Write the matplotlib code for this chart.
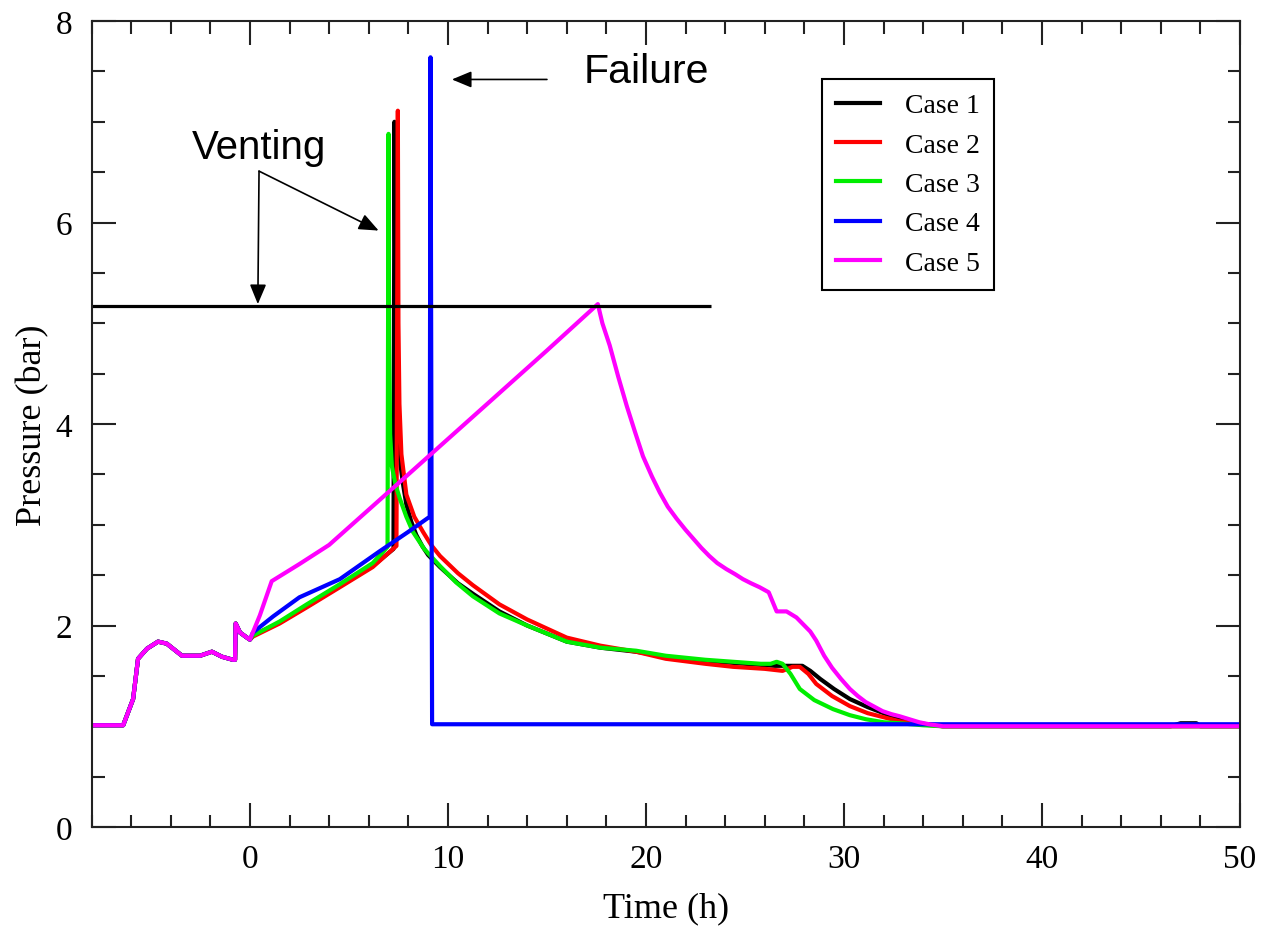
import matplotlib
matplotlib.use("Agg")
import matplotlib.pyplot as plt
from matplotlib.ticker import MultipleLocator

# shared history before t = 0 (all cases identical)
pre_t = [-8.0, -6.4, -5.9, -5.65, -5.2, -4.64, -4.2, -3.43, -2.52, -1.92, -1.41, -0.86, -0.75, -0.72, -0.5, -0.15, 0.0]
pre_p = [1.01, 1.01, 1.27, 1.67, 1.77, 1.84, 1.82, 1.70, 1.70, 1.74, 1.69, 1.66, 1.66, 2.02, 1.93, 1.88, 1.86]

# Case 1
t1 = [0.15, 1.5, 2.87, 4.54, 6.2, 7.25, 7.3, 7.35, 7.42, 7.5, 7.6, 7.75, 7.9, 8.15, 8.4, 8.7, 9.0, 9.6,
      10.5, 11.3, 12.6, 14.0, 16.0, 17.7, 19.5, 21.0, 23.0, 25.0, 26.5, 27.2, 27.9, 28.3, 28.8, 29.5, 30.3,
      31.2, 32.0, 32.8, 33.8, 35.0, 46.5, 47.0, 47.8, 48.0, 50.0]
p1 = [1.90, 2.03, 2.19, 2.39, 2.59, 2.76, 7.0, 5.0, 4.3, 3.9, 3.6, 3.38, 3.2, 3.03, 2.9, 2.79, 2.7, 2.58,
      2.42, 2.31, 2.14, 2.0, 1.84, 1.78, 1.74, 1.69, 1.65, 1.62, 1.60, 1.60, 1.60, 1.55, 1.47, 1.37, 1.27,
      1.19, 1.13, 1.07, 1.03, 1.0, 1.0, 1.03, 1.03, 1.0, 1.0]

# Case 2
t2 = [0.15, 1.5, 2.87, 4.54, 6.2, 7.4, 7.47, 7.5, 7.55, 7.65, 7.9, 8.3, 8.74, 9.15, 9.6, 10.5, 11.26, 12.6,
      14.0, 16.0, 17.7, 19.5, 21.0, 23.0, 24.4, 26.0, 26.9, 27.4, 27.77, 28.2, 28.6, 29.4, 30.3, 31.2, 32.0,
      32.8, 33.8, 35.0, 50.0]
p2 = [1.89, 2.02, 2.18, 2.38, 2.58, 2.79, 7.11, 5.0, 4.2, 3.7, 3.3, 3.08, 2.93, 2.8, 2.69, 2.52, 2.40, 2.21,
      2.06, 1.88, 1.80, 1.74, 1.67, 1.62, 1.59, 1.57, 1.55, 1.59, 1.59, 1.52, 1.42, 1.30, 1.20, 1.13, 1.09,
      1.05, 1.02, 1.0, 1.0]

# Case 3
t3 = [0.15, 1.5, 2.87, 4.54, 6.2, 6.95, 7.0, 7.03, 7.08, 7.17, 7.35, 7.57, 7.9, 8.23, 8.8, 9.6, 10.4, 11.26,
      12.6, 14.0, 16.0, 17.7, 19.5, 21.0, 23.0, 24.4, 25.8, 26.3, 26.6, 26.9, 27.3, 27.77, 28.5, 29.45, 30.3,
      31.1, 32.0, 32.8, 34.0, 35.0, 50.0]
p3 = [1.90, 2.04, 2.21, 2.41, 2.62, 2.78, 6.88, 4.8, 3.9, 3.58, 3.4, 3.26, 3.08, 2.93, 2.76, 2.59, 2.43, 2.29,
      2.12, 2.0, 1.84, 1.78, 1.75, 1.70, 1.66, 1.64, 1.62, 1.62, 1.64, 1.62, 1.52, 1.37, 1.26, 1.17, 1.11,
      1.07, 1.04, 1.03, 1.01, 1.0, 1.0]

# Case 4 (failure)
t4 = [0.15, 1.17, 2.5, 4.54, 6.5, 8.0, 9.08, 9.12, 9.2, 50.0]
p4 = [1.93, 2.09, 2.28, 2.46, 2.73, 2.93, 3.08, 7.64, 1.02, 1.02]

# Case 5
t5 = [0.5, 1.1, 2.5, 4.0, 8.0, 12.1, 15.0, 17.57, 17.8, 18.17, 18.6, 19.03, 19.45, 19.85, 20.3, 20.7, 21.1,
      21.55, 22.0, 22.4, 22.8, 23.2, 23.6, 24.06, 24.5, 24.9, 25.3, 25.74, 26.2, 26.6, 27.1, 27.6, 28.0,
      28.3, 28.6, 29.0, 29.4, 29.85, 30.3, 30.7, 31.1, 31.95, 32.4, 32.8, 33.3, 33.8, 34.3, 35.0, 50.0]
p5 = [2.1, 2.44, 2.61, 2.8, 3.5, 4.22, 4.73, 5.19, 5.0, 4.78, 4.47, 4.18, 3.92, 3.68, 3.48, 3.32, 3.18,
      3.06, 2.95, 2.86, 2.77, 2.69, 2.62, 2.56, 2.51, 2.46, 2.42, 2.38, 2.33, 2.14, 2.14, 2.08, 2.0,
      1.94, 1.85, 1.70, 1.58, 1.47, 1.37, 1.30, 1.24, 1.15, 1.12, 1.10, 1.07, 1.04, 1.02, 1.0, 1.0]

cases = ["Case 1", "Case 2", "Case 3", "Case 4", "Case 5"]
colors = ["black", "#ff0000", "#00ee00", "#0000ff", "#ff00ff"]
series = [(t1, p1), (t2, p2), (t3, p3), (t4, p4), (t5, p5)]

vent_level = 5.17

serif = "Liberation Serif"
sans = "Liberation Sans"

fig = plt.figure(figsize=(12.64, 9.29), dpi=100)
ax = fig.add_axes([0.0724, 0.1087, 0.9086, 0.8676])

for (t, p), c, lab in zip(series, colors, cases):
    ax.plot(pre_t + t, pre_p + p, color=c, lw=3, label=lab, solid_joinstyle="round")

# venting pressure level
ax.hlines(vent_level, -8, 23.3, color="black", lw=2.3)

ax.set_xlim(-8, 50)
ax.set_ylim(0, 8)
ax.xaxis.set_major_locator(MultipleLocator(10))
ax.xaxis.set_minor_locator(MultipleLocator(2))
ax.yaxis.set_major_locator(MultipleLocator(2))
ax.yaxis.set_minor_locator(MultipleLocator(0.5))
ax.tick_params(which="both", direction="in", top=True, right=True, width=1.5, color="#222222")
ax.tick_params(which="major", length=17)
ax.tick_params(which="minor", length=9)
ax.tick_params(axis="x", which="major", pad=12, labelsize=24)
ax.tick_params(axis="y", which="major", pad=14, labelsize=24)
for lbl in ax.get_xticklabels() + ax.get_yticklabels():
    lbl.set_family(serif)
for s in ax.spines.values():
    s.set_linewidth(1.5)
    s.set_color("#222222")

ax.set_xlabel("Time (h)", family=serif, fontsize=26, labelpad=12)
ax.set_ylabel("Pressure (bar)", family=serif, fontsize=26, labelpad=4)

leg = ax.legend(loc="upper left", bbox_to_anchor=(0.636, 0.928), borderaxespad=0,
                fancybox=False, edgecolor="black", framealpha=1,
                prop={"family": serif, "size": 20},
                handlelength=1.6, handletextpad=0.9, labelspacing=0.5, borderpad=0.5)
leg.get_frame().set_linewidth(1.5)
for line in leg.get_lines():
    line.set_linewidth(3)

# annotations
arrow = dict(arrowstyle="-|>,head_length=0.6,head_width=0.25", color="black", lw=1.2,
             shrinkA=0, shrinkB=0, mutation_scale=20)
ax.text(0.45, 6.75, "Venting", family=sans, fontsize=29, ha="center", va="center")
ax.annotate("", xy=(0.40, 5.19), xytext=(0.46, 6.51), arrowprops=arrow)
ax.annotate("", xy=(6.5, 5.92), xytext=(0.46, 6.51), arrowprops=arrow)
ax.text(20.0, 7.5, "Failure", family=sans, fontsize=29.5, ha="center", va="center")
ax.annotate("", xy=(10.2, 7.42), xytext=(15.0, 7.42), arrowprops=arrow)

fig.savefig("out.png", dpi=100)
